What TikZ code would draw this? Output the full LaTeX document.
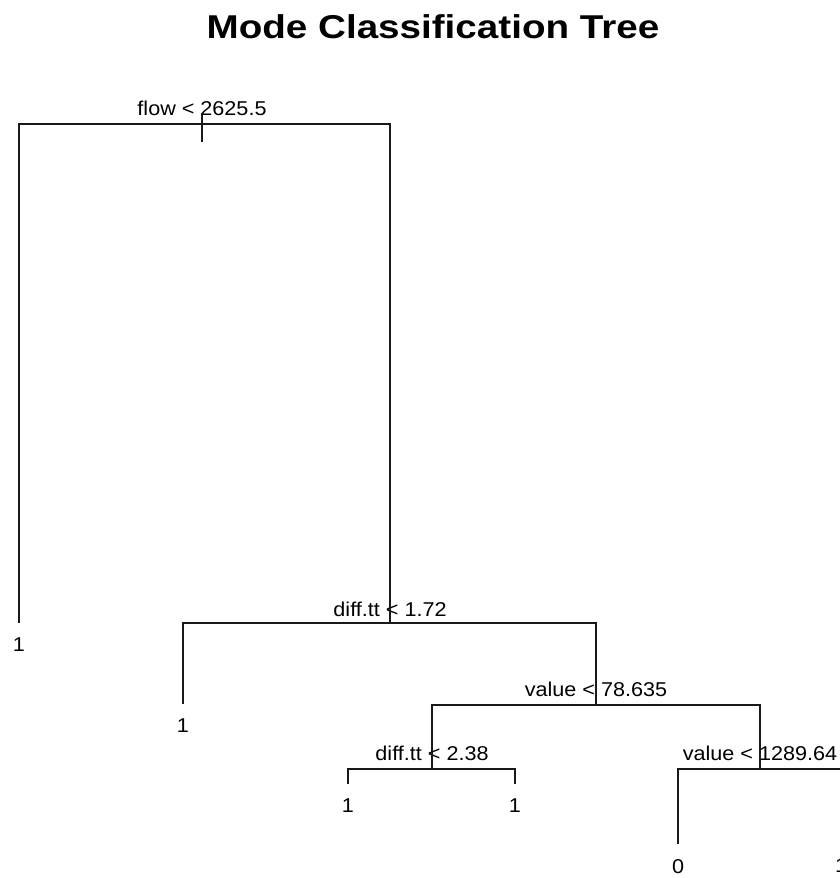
\documentclass[tikz,border=0pt]{standalone}
\usepackage{fontspec}
\setmainfont{Liberation Sans}
\tikzset{
  splitlab/.style={anchor=base, inner sep=0pt, font=\fontsize{20}{20}\selectfont},
  leaflab/.style={anchor=north, inner sep=0pt, font=\fontsize{20}{20}\selectfont},
  branch/.style={line width=1.8pt, black!90},
}
\newcommand{\wide}[1]{\scalebox{1.08}[1]{#1}}

\begin{document}
\begin{tikzpicture}[x=1pt, y=-1pt]
  \useasboundingbox (0,0) rectangle (840,878);
  \node[anchor=base, inner sep=0pt, font=\bfseries\fontsize{33}{33}\selectfont] (title) at (433,38) {\scalebox{1.17}[1]{Mode Classification Tree}};
  % split points
  \coordinate (root) at (202,124);
  \coordinate (roottop) at (202,113);
  \coordinate (rootbot) at (202,142);
  \coordinate (s2) at (390,623);
  \coordinate (s3) at (596,705);
  \coordinate (s4) at (432,769);
  \coordinate (s5) at (760,769);
  \node[splitlab] (lab1) at (202,115) {\wide{flow < 2625.5}};
  \node[splitlab] (lab2) at (390,616) {\wide{diff.tt < 1.72}};
  \node[splitlab] (lab3) at (596,696) {\wide{value < 78.635}};
  \node[splitlab] (lab4) at (432,760) {\wide{diff.tt < 2.38}};
  \node[splitlab] (lab5) at (760,760) {\wide{value < 1289.64}};
  % leaves
  \node[leaflab] (leaf1) at (19,638) {\wide{1}};
  \node[leaflab] (leaf2) at (183,719) {\wide{1}};
  \node[leaflab] (leaf3) at (348,799) {\wide{1}};
  \node[leaflab] (leaf4) at (515,799) {\wide{1}};
  \node[leaflab] (leaf5) at (678,859) {\wide{0}};
  \node[leaflab] (leaf6) at (841,859) {\wide{1}};
  % branches
  \draw[branch] (roottop) -- (rootbot);
  \draw[branch] (root) -| ([yshift=15pt]leaf1.north);
  \draw[branch] (root) -| (s2);
  \draw[branch] (s2) -| ([yshift=15pt]leaf2.north);
  \draw[branch] (s2) -| (s3);
  \draw[branch] (s3) -| (s4);
  \draw[branch] (s3) -| (s5);
  \draw[branch] (s4) -| ([yshift=15pt]leaf3.north);
  \draw[branch] (s4) -| ([yshift=15pt]leaf4.north);
  \draw[branch] (s5) -| ([yshift=15pt]leaf5.north);
  \draw[branch] (s5) -| ([yshift=15pt]leaf6.north);
\end{tikzpicture}
\end{document}
